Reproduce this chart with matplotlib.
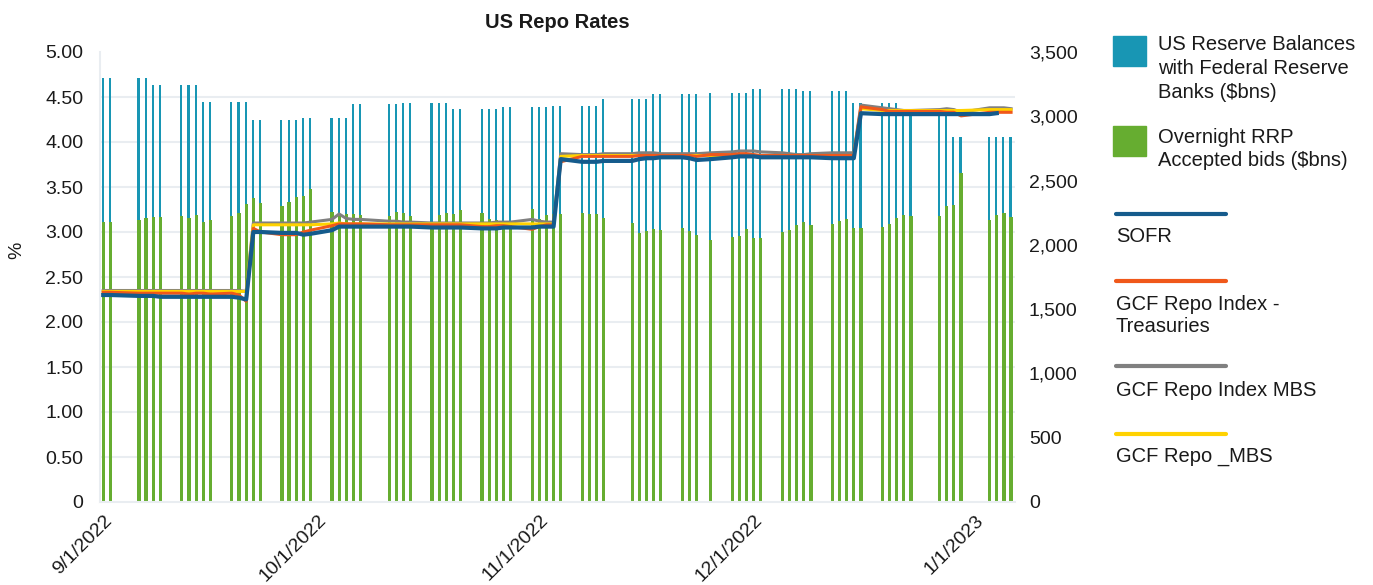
import numpy as np
import pandas as pd
import matplotlib
matplotlib.use("Agg")
import matplotlib.pyplot as plt
import matplotlib.dates as mdates
from matplotlib.patches import Rectangle
from matplotlib.lines import Line2D

plt.rcParams['font.family'] = ['Liberation Sans', 'DejaVu Sans']

# ---------------- data ----------------
dates = [
    # Sep 2022
    "2022-09-01", "2022-09-02", "2022-09-06", "2022-09-07", "2022-09-08", "2022-09-09",
    "2022-09-12", "2022-09-13", "2022-09-14", "2022-09-15", "2022-09-16",
    "2022-09-19", "2022-09-20", "2022-09-21", "2022-09-22", "2022-09-23",
    "2022-09-26", "2022-09-27", "2022-09-28", "2022-09-29", "2022-09-30",
    # Oct 2022
    "2022-10-03", "2022-10-04", "2022-10-05", "2022-10-06", "2022-10-07",
    "2022-10-11", "2022-10-12", "2022-10-13", "2022-10-14",
    "2022-10-17", "2022-10-18", "2022-10-19", "2022-10-20", "2022-10-21",
    "2022-10-24", "2022-10-25", "2022-10-26", "2022-10-27", "2022-10-28", "2022-10-31",
    # Nov 2022
    "2022-11-01", "2022-11-02", "2022-11-03", "2022-11-04",
    "2022-11-07", "2022-11-08", "2022-11-09", "2022-11-10",
    "2022-11-14", "2022-11-15", "2022-11-16", "2022-11-17", "2022-11-18",
    "2022-11-21", "2022-11-22", "2022-11-23", "2022-11-25",
    "2022-11-28", "2022-11-29", "2022-11-30",
    # Dec 2022
    "2022-12-01", "2022-12-02", "2022-12-05", "2022-12-06", "2022-12-07", "2022-12-08", "2022-12-09",
    "2022-12-12", "2022-12-13", "2022-12-14", "2022-12-15", "2022-12-16",
    "2022-12-19", "2022-12-20", "2022-12-21", "2022-12-22", "2022-12-23",
    "2022-12-27", "2022-12-28", "2022-12-29", "2022-12-30",
    # Jan 2023
    "2023-01-03", "2023-01-04", "2023-01-05", "2023-01-06",
]

reserves = [
    3295, 3295, 3295, 3295, 3243, 3243, 3243, 3243, 3243, 3113, 3113,
    3113, 3113, 3113, 2969, 2969, 2969, 2969, 2969, 2984, 2984,
    2984, 2984, 2984, 3098, 3098, 3098, 3098, 3103, 3103,
    3103, 3103, 3103, 3054, 3054, 3054, 3054, 3054, 3072, 3072, 3072,
    3072, 3072, 3080, 3080, 3080, 3080, 3080, 3137,
    3137, 3137, 3137, 3173, 3173, 3173, 3173, 3173, 3181, 3181, 3181, 3181,
    3210, 3210, 3210, 3210, 3210, 3199, 3199, 3199, 3199, 3199, 3100, 3100,
    3100, 3100, 3100, 3005, 3005, 3005, 3005, 2839, 2839,
    2839, 2839, 2839, 2839,
]

rrp = [
    2178, 2178, 2193, 2209, 2217, 2217, 2225, 2209, 2232, 2178, 2193,
    2225, 2248, 2318, 2364, 2326, 2305, 2333, 2372, 2380, 2435,
    2253, 2240, 2240, 2240, 2232, 2225, 2256, 2245, 2225,
    2175, 2232, 2248, 2240, 2271, 2250, 2199, 2193, 2185, 2185, 2276,
    2204, 2232, 2240, 2240, 2248, 2240, 2240, 2209,
    2170, 2092, 2108, 2123, 2116, 2131, 2108, 2077, 2038, 2061, 2069, 2123,
    2053, 2053, 2100, 2116, 2155, 2178, 2155, 2162, 2186, 2201, 2131, 2131,
    2139, 2162, 2209, 2232, 2225, 2225, 2302, 2310, 2559,
    2193, 2232, 2248, 2217,
]

sofr = [
    2.30, 2.30, 2.29, 2.29, 2.29, 2.28, 2.28, 2.28, 2.28, 2.28, 2.28,
    2.28, 2.27, 2.25, 3.00, 3.00, 2.99, 2.99, 2.99, 2.97, 2.98,
    3.02, 3.06, 3.06, 3.06, 3.06, 3.06, 3.06, 3.06, 3.06,
    3.05, 3.05, 3.05, 3.05, 3.05, 3.04, 3.04, 3.04, 3.05, 3.05, 3.05,
    3.06, 3.06, 3.06, 3.81, 3.78, 3.78, 3.78, 3.79,
    3.79, 3.81, 3.82, 3.82, 3.83, 3.83, 3.82, 3.80, 3.81, 3.83, 3.84, 3.84,
    3.84, 3.83, 3.83, 3.83, 3.83, 3.83, 3.83, 3.82, 3.82, 3.82, 3.82, 4.32,
    4.31, 4.31, 4.31, 4.31, 4.31, 4.31, 4.31, 4.31, 4.31,
    4.31, 4.32, np.nan, np.nan,
]

gcf_treasury = [
    2.33, 2.33, 2.32, 2.32, 2.32, 2.32, 2.32, 2.31, 2.32, 2.32, 2.31,
    2.32, 2.30, 2.23, 3.04, 3.00, 2.97, 2.97, 2.97, 3.00, 3.02,
    3.07, 3.09, 3.09, 3.09, 3.09, 3.08, 3.08, 3.08, 3.08,
    3.08, 3.08, 3.08, 3.08, 3.08, 3.06, 3.06, 3.07, 3.07, 3.06, 3.03,
    3.06, 3.08, 3.08, 3.78, 3.84, 3.84, 3.84, 3.84,
    3.84, 3.85, 3.85, 3.85, 3.85, 3.85, 3.85, 3.84, 3.86, 3.86, 3.87, 3.87,
    3.86, 3.85, 3.85, 3.85, 3.85, 3.85, 3.85, 3.85, 3.85, 3.85, 3.85, 4.39,
    4.36, 4.34, 4.34, 4.34, 4.34, 4.34, 4.33, 4.33, 4.29,
    4.33, 4.33, 4.33, 4.33,
]

gcf_mbs_index = [
    2.35, 2.35, 2.35, 2.35, 2.35, 2.35, 2.35, 2.35, 2.35, 2.35, 2.35,
    2.35, 2.35, 2.34, 3.10, 3.10, 3.10, 3.10, 3.10, 3.10, 3.11,
    3.14, 3.20, 3.15, 3.14, 3.14, 3.12, 3.12, 3.11, 3.11,
    3.10, 3.10, 3.10, 3.10, 3.10, 3.10, 3.10, 3.11, 3.11, 3.11, 3.14,
    3.12, 3.11, 3.11, 3.87, 3.86, 3.86, 3.86, 3.87,
    3.87, 3.88, 3.88, 3.88, 3.87, 3.87, 3.87, 3.87, 3.88, 3.89, 3.90, 3.90,
    3.90, 3.89, 3.88, 3.87, 3.86, 3.86, 3.87, 3.88, 3.88, 3.88, 3.88, 4.41,
    4.38, 4.37, 4.36, 4.35, 4.35, 4.36, 4.37, 4.36, 4.33,
    4.38, 4.38, 4.38, 4.37,
]

gcf_mbs = [
    2.34, 2.34, 2.34, 2.34, 2.34, 2.34, 2.34, 2.34, 2.34, 2.34, 2.34,
    2.34, 2.34, 2.34, 3.08, 3.08, 3.08, 3.08, 3.08, 3.08, 3.08,
    3.09, 3.10, 3.09, 3.09, 3.09, 3.09, 3.09, 3.09, 3.09,
    3.09, 3.09, 3.09, 3.09, 3.09, 3.09, 3.09, 3.09, 3.09, 3.09, 3.09,
    3.09, 3.09, 3.09, 3.84, 3.85, 3.85, 3.85, 3.85,
    3.85, 3.85, 3.85, 3.85, 3.85, 3.85, 3.85, 3.85, 3.85, 3.85, 3.85, 3.85,
    3.85, 3.85, 3.85, 3.85, 3.85, 3.85, 3.85, 3.85, 3.85, 3.85, 3.85, 4.37,
    4.35, 4.35, 4.35, 4.35, 4.35, 4.35, 4.35, 4.35, 4.35,
    4.36, 4.36, 4.36, 4.36,
]

xtick_dates = ["2022-09-01", "2022-10-01", "2022-11-01", "2022-12-01", "2023-01-01"]
xtick_labels = ["9/1/2022", "10/1/2022", "11/1/2022", "12/1/2022", "1/1/2023"]
left_ticks = [0, 0.5, 1.0, 1.5, 2.0, 2.5, 3.0, 3.5, 4.0, 4.5, 5.0]
left_labels = ["0", "0.50", "1.00", "1.50", "2.00", "2.50", "3.00", "3.50", "4.00", "4.50", "5.00"]
right_ticks = [0, 500, 1000, 1500, 2000, 2500, 3000, 3500]
right_labels = ["0", "500", "1,000", "1,500", "2,000", "2,500", "3,000", "3,500"]

# ---------------- style ----------------
C_RES = "#1896b4"
C_RRP = "#66ad30"
C_SOFR = "#155b8c"
C_TSY = "#f0581a"
C_MBSI = "#808080"
C_MBS = "#ffd200"
GRID = "#e9edf1"
TXT = "#1a1a1a"

W, H = 1373, 585
fig = plt.figure(figsize=(W / 100, H / 100), dpi=100)
ax = fig.add_axes([100 / W, 1 - 502 / H, 915 / W, 450 / H])
ax2 = ax.twinx()

x = mdates.date2num(pd.to_datetime(dates))

# bars on right axis
ax2.bar(x - 0.07, reserves, width=0.3, color=C_RES, zorder=2)
ax2.bar(x, rrp, width=0.45, color=C_RRP, zorder=3)
ax2.set_ylim(0, 3500)
ax2.set_yticks(right_ticks)
ax2.set_yticklabels(right_labels)
ax2.set_yticks(np.arange(0, 3501, 350), minor=True)
ax2.yaxis.grid(True, which='minor', color=GRID, linewidth=1.5, zorder=0)
ax2.yaxis.grid(False, which='major')
ax2.set_axisbelow(True)
ax2.tick_params(axis='y', which='both', length=0, labelsize=14, labelcolor=TXT, pad=10)

# lines on left axis
ax.plot(x, gcf_mbs_index, color=C_MBSI, lw=2.2, zorder=3)
ax.plot(x, gcf_mbs, color=C_MBS, lw=2.2, zorder=4)
ax.plot(x, gcf_treasury, color=C_TSY, lw=2.2, zorder=5)
ax.plot(x, sofr, color=C_SOFR, lw=3.0, zorder=6)
ax.set_ylim(0, 5)
ax.set_yticks(left_ticks)
ax.set_yticklabels(left_labels)
ax.tick_params(axis='y', length=0, labelsize=14, labelcolor=TXT, pad=12)

ax.set_zorder(ax2.get_zorder() + 1)
ax.patch.set_visible(False)

xmin = mdates.date2num(pd.Timestamp("2022-09-01")) - 0.45
xmax = mdates.date2num(pd.Timestamp("2023-01-06")) + 0.55
ax.set_xlim(xmin, xmax)
ax2.set_xlim(xmin, xmax)
ax.set_xticks(mdates.date2num(pd.to_datetime(xtick_dates)))
ax.set_xticklabels(xtick_labels, rotation=45, ha='right', rotation_mode='anchor')
ax.tick_params(axis='x', length=0, labelsize=14, labelcolor=TXT, pad=7)

for a in (ax, ax2):
    for s in ('top', 'right'):
        a.spines[s].set_visible(False)
ax2.spines['left'].set_visible(False)
ax2.spines['bottom'].set_visible(False)
ax.spines['left'].set_color(GRID)
ax.spines['left'].set_linewidth(1.5)
ax.spines['bottom'].set_color(GRID)
ax.spines['bottom'].set_linewidth(1.5)

# title / axis label
fig.text(557 / W, 1 - 22 / H, "US Repo Rates", ha='center', va='center',
         fontsize=14.5, fontweight='bold', color=TXT)
fig.text(17 / W, 1 - 250 / H, "%", ha='center', va='center', rotation=90,
         fontsize=14, color=TXT)

# legend (manual, figure coordinates)
def fy(py):
    return 1 - py / H

fs = 14.5
fig.add_artist(Rectangle((1113 / W, fy(66)), 33 / W, 30 / H, color=C_RES,
                         transform=fig.transFigure))
for txt, py in (("US Reserve Balances", 45), ("with Federal Reserve", 69), ("Banks ($bns)", 93)):
    fig.text(1158 / W, fy(py), txt, ha='left', va='center', fontsize=fs, color=TXT)
fig.add_artist(Rectangle((1113 / W, fy(156)), 33 / W, 30 / H, color=C_RRP,
                         transform=fig.transFigure))
for txt, py in (("Overnight RRP", 137), ("Accepted bids ($bns)", 160)):
    fig.text(1158 / W, fy(py), txt, ha='left', va='center', fontsize=fs, color=TXT)

legend_lines = [
    (C_SOFR, 214, [("SOFR", 237)]),
    (C_TSY, 281, [("GCF Repo Index -", 304), ("Treasuries", 327)]),
    (C_MBSI, 366, [("GCF Repo Index MBS", 390)]),
    (C_MBS, 434, [("GCF Repo _MBS", 457)]),
]
for col, ly, texts in legend_lines:
    fig.add_artist(Line2D([1116 / W, 1226 / W], [fy(ly), fy(ly)], color=col, lw=3.0,
                          solid_capstyle='round', transform=fig.transFigure))
    for txt, py in texts:
        fig.text(1116 / W, fy(py), txt, ha='left', va='center', fontsize=fs, color=TXT)

fig.savefig("out.png", dpi=100)
